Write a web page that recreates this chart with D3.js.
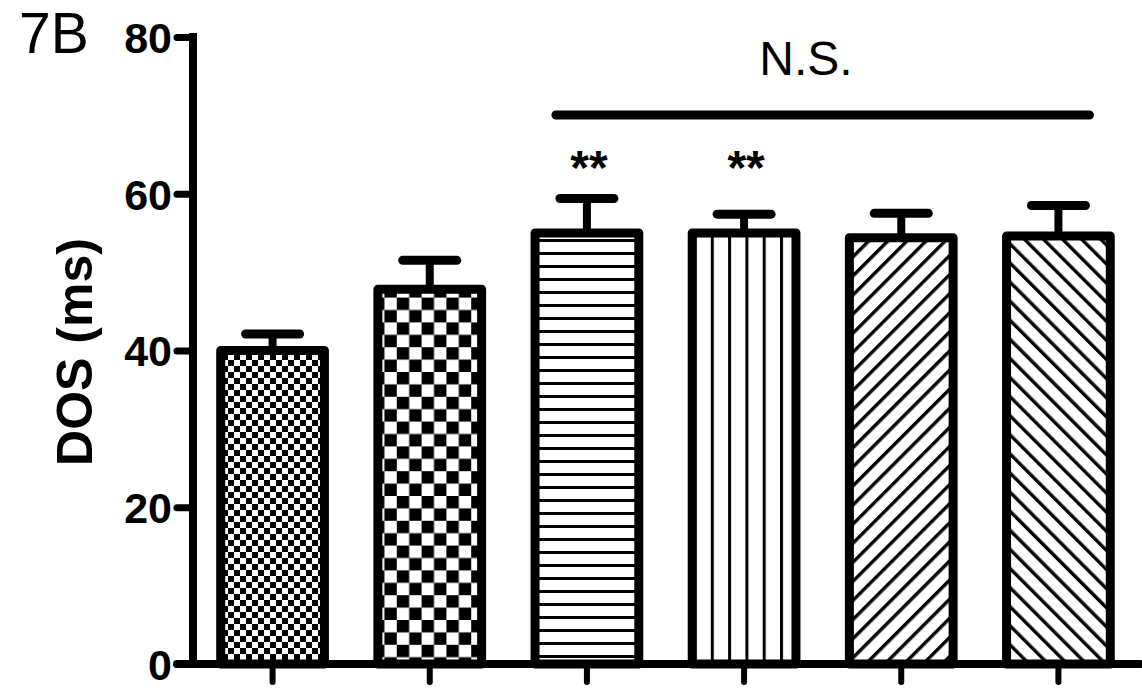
<!DOCTYPE html>
<html>
<head>
<meta charset="utf-8">
<script src="https://cdn.jsdelivr.net/npm/d3@7"></script>
<style>
  html, body { margin: 0; padding: 0; background: #fff; }
  svg { display: block; }
  text { font-family: "Liberation Sans", Arial, sans-serif; fill: #000; }
</style>
</head>
<body>
<svg id="chart" width="1142" height="694"></svg>
<script>
// ---- data ----
const groups = ["G1", "G2", "G3", "G4", "G5", "G6"];
const means = [40.0, 47.8, 55.0, 55.0, 54.4, 54.6];
const errors = [2.1, 3.7, 4.4, 2.4, 3.1, 3.9];
const patterns = ["checkSmall", "checkLarge", "hLines", "vLines", "diagUp", "diagDown"];
const yTicks = [0, 20, 40, 60, 80];
const signif = ["", "", "**", "**", "", ""];
const bracketLabel = "N.S.";
const bracketFrom = "G3", bracketTo = "G6";
const panelLabel = "7B";
const yLabel = "DOS (ms)";

const svg = d3.select("#chart");
const defs = svg.append("defs");

// patterns
function checker(id, s) {
  const p = defs.append("pattern").attr("id", id).attr("patternUnits", "userSpaceOnUse")
    .attr("width", 2 * s).attr("height", 2 * s);
  p.append("rect").attr("width", 2 * s).attr("height", 2 * s).attr("fill", "#fff");
  p.append("rect").attr("x", 0).attr("y", 0).attr("width", s).attr("height", s).attr("fill", "#000");
  p.append("rect").attr("x", s).attr("y", s).attr("width", s).attr("height", s).attr("fill", "#000");
}
checker("checkSmall", 6);
checker("checkLarge", 12.4);
(function () {
  const p = defs.append("pattern").attr("id", "hLines").attr("patternUnits", "userSpaceOnUse")
    .attr("width", 13).attr("height", 13);
  p.append("rect").attr("width", 13).attr("height", 13).attr("fill", "#fff");
  p.append("rect").attr("x", 0).attr("y", 5).attr("width", 13).attr("height", 3).attr("fill", "#000");
})();
(function () {
  const p = defs.append("pattern").attr("id", "vLines").attr("patternUnits", "userSpaceOnUse")
    .attr("width", 17.3).attr("height", 17.3).attr("x", 1.5);
  p.append("rect").attr("width", 17.3).attr("height", 17.3).attr("fill", "#fff");
  p.append("rect").attr("x", 0).attr("y", 0).attr("width", 3).attr("height", 17.3).attr("fill", "#000");
})();
function diag(id, dir) {
  const s = 13.5;
  const p = defs.append("pattern").attr("id", id).attr("patternUnits", "userSpaceOnUse")
    .attr("width", s).attr("height", s)
    .attr("patternTransform", "rotate(" + (dir > 0 ? 45 : -45) + ")");
  p.append("rect").attr("width", s).attr("height", s).attr("fill", "#fff");
  p.append("rect").attr("x", 0).attr("y", 0).attr("width", 3.4).attr("height", s).attr("fill", "#000");
}
diag("diagUp", 1);
diag("diagDown", -1);

// scales
const x = d3.scaleBand().domain(groups).range([194, 1137]).paddingInner(0.34).paddingOuter(0.17);
const y = d3.scaleLinear().domain([0, 80]).range([664, 37]);

// bars
const bw = x.bandwidth();
const g = svg.append("g");
groups.forEach((k, i) => {
  const cx = x(k) + bw / 2;
  // error bar stem and cap
  g.append("line").attr("x1", cx).attr("x2", cx)
    .attr("y1", y(means[i])).attr("y2", y(means[i] + errors[i]))
    .attr("stroke", "#000").attr("stroke-width", 8);
  g.append("line").attr("x1", cx - 27).attr("x2", cx + 27)
    .attr("y1", y(means[i] + errors[i])).attr("y2", y(means[i] + errors[i]))
    .attr("stroke", "#000").attr("stroke-width", 9).attr("stroke-linecap", "round");
  g.append("rect").attr("x", x(k)).attr("y", y(means[i]))
    .attr("width", bw).attr("height", y(0) - y(means[i]))
    .attr("fill", "url(#" + patterns[i] + ")")
    .attr("stroke", "#000").attr("stroke-width", 9).attr("stroke-linejoin", "round");
  if (signif[i]) {
    g.append("text").attr("x", cx + 2).attr("y", 184)
      .attr("text-anchor", "middle").attr("font-weight", "bold").attr("font-size", 48)
      .text(signif[i]);
  }
});

// y axis
const yAxis = d3.axisLeft(y).tickValues(yTicks).tickSize(16).tickPadding(5);
const ya = svg.append("g").attr("transform", "translate(193,0)").call(yAxis);
ya.select(".domain").attr("d", "M0," + y(80) + "V" + y(0)).attr("stroke", "#000").attr("stroke-width", 8).attr("stroke-linecap", "square");
ya.selectAll(".tick line").attr("stroke", "#000").attr("stroke-width", 7).attr("stroke-linecap", "round");
ya.selectAll(".tick text").attr("font-size", 43).attr("font-weight", "bold")
  .attr("font-family", "Liberation Sans, Arial, sans-serif").attr("dy", "0.36em");

// x axis
const xAxis = d3.axisBottom(x).tickSize(18).tickFormat("");
const xa = svg.append("g").attr("transform", "translate(0," + y(0) + ")").call(xAxis);
xa.select(".domain").attr("d", "M177,0H1140").attr("stroke", "#000").attr("stroke-width", 8).attr("stroke-linecap", "round");
xa.selectAll(".tick line").attr("stroke", "#000").attr("stroke-width", 6).attr("stroke-linecap", "round");

// y label
svg.append("text").attr("transform", "translate(92,352) rotate(-90)")
  .attr("text-anchor", "middle").attr("font-weight", "bold").attr("font-size", 50).text(yLabel);

// panel label
svg.append("text").attr("x", 19).attr("y", 53).attr("font-size", 57).text(panelLabel);

// N.S. bracket
const bx1 = x(bracketFrom) + bw / 2 - 31, bx2 = x(bracketTo) + bw / 2 + 31;
svg.append("line").attr("x1", bx1).attr("x2", bx2).attr("y1", 115).attr("y2", 115)
  .attr("stroke", "#000").attr("stroke-width", 9).attr("stroke-linecap", "round");
svg.append("text").attr("x", 806).attr("y", 75).attr("text-anchor", "middle")
  .attr("font-size", 48).text(bracketLabel);
</script>
</body>
</html>
